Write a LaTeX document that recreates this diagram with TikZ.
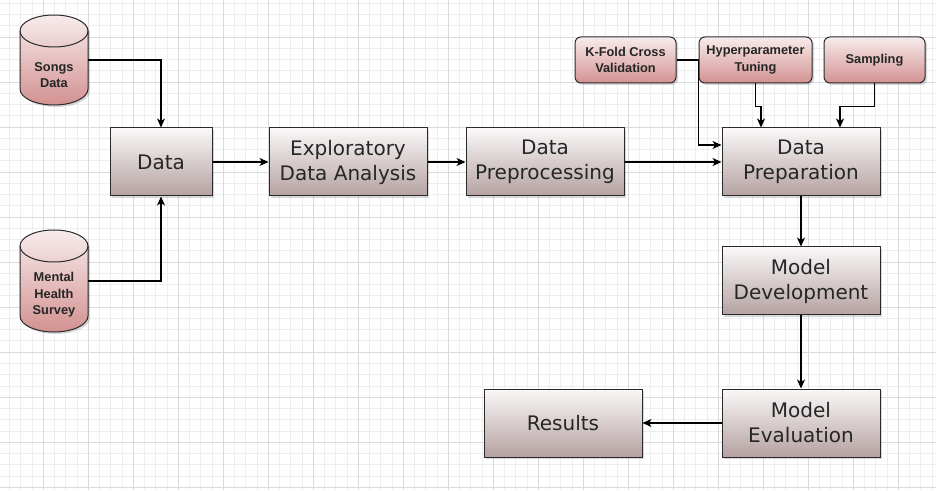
\documentclass[tikz,border=0pt]{standalone}
\usepackage{fontspec}
\setmainfont{DejaVu Sans}
\newfontfamily\smallfont{Liberation Sans}
\usetikzlibrary{shadows,calc,arrows.meta}
\definecolor{boxtop}{HTML}{FAF8F8}
\definecolor{boxbot}{HTML}{B5A1A1}
\definecolor{pinktop}{HTML}{F8ECEC}
\definecolor{pinkbot}{HTML}{D39191}
\definecolor{edge}{HTML}{2A2A2A}
\definecolor{txt}{HTML}{262626}
\definecolor{gridminor}{HTML}{EEEEEE}
\definecolor{gridmajor}{HTML}{DADADA}
\begin{document}
\begin{tikzpicture}[x=1pt,y=1pt,
  bigbox/.style={draw=edge, line width=1pt, top color=boxtop, bottom color=boxbot,
    minimum width=158pt, minimum height=68pt, align=center, text=txt,
    font=\fontsize{20}{25}\selectfont, inner sep=2pt,
    drop shadow={shadow xshift=2pt,shadow yshift=-2pt,opacity=0.3}},
  smallbox/.style={draw=edge, line width=1pt, top color=pinktop, bottom color=pinkbot,
    rounded corners=6pt, minimum height=46pt, align=center, text=txt,
    font=\smallfont\fontsize{12.8}{16.5}\selectfont\bfseries, inner sep=2pt,
    drop shadow={shadow xshift=2pt,shadow yshift=-2pt,opacity=0.3}},
  cyltext/.style={align=center, text=txt, font=\smallfont\fontsize{12.8}{16.5}\selectfont\bfseries, inner sep=0pt},
  cylshape/.style={draw=edge, line width=1pt, top color=pinktop, bottom color=pinkbot},
  hidden/.style={inner sep=0pt, outer sep=0pt},
  conn/.style={draw=black, line width=1.1pt, -{Stealth[length=9pt,width=8pt,inset=2.5pt]}}
]
\useasboundingbox (0,0) rectangle (936,490);
\fill[white] (0,0) rectangle (936,490);
% grid
\foreach \i in {0,...,84} {
  \pgfmathsetmacro{\xx}{-2+11.25*\i}
  \draw[gridminor, line width=0.5pt] (\xx,0) -- (\xx,490);
}
\foreach \j in {0,...,43} {
  \pgfmathsetmacro{\yy}{3+11.25*\j}
  \draw[gridminor, line width=0.5pt] (0,\yy) -- (936,\yy);
}
\foreach \i in {0,...,21} {
  \pgfmathsetmacro{\xx}{-2+45*\i}
  \draw[gridmajor, line width=0.6pt] (\xx,0) -- (\xx,490);
}
\foreach \j in {0,...,10} {
  \pgfmathsetmacro{\yy}{3+45*\j}
  \draw[gridmajor, line width=0.6pt] (0,\yy) -- (936,\yy);
}

% cylinders
\path[cylshape, drop shadow={shadow xshift=2pt,shadow yshift=-2pt,opacity=0.3}]
  (20,459) -- (20,401) arc[start angle=180, end angle=360, x radius=34, y radius=16]
  -- (88,459) arc[start angle=0, end angle=180, x radius=34, y radius=16] -- cycle;
\draw[edge, line width=1pt] (20,459) arc[start angle=180, end angle=360, x radius=34, y radius=16];
\path[cylshape, drop shadow={shadow xshift=2pt,shadow yshift=-2pt,opacity=0.3}]
  (20,244) -- (20,174) arc[start angle=180, end angle=360, x radius=34, y radius=16]
  -- (88,244) arc[start angle=0, end angle=180, x radius=34, y radius=16] -- cycle;
\draw[edge, line width=1pt] (20,244) arc[start angle=180, end angle=360, x radius=34, y radius=16];
\node[hidden, minimum width=68pt, minimum height=90pt] (songs) at (54,430) {};
\node[cyltext] (songsT) at (54,415) {Songs\\Data};
\node[hidden, minimum width=68pt, minimum height=102pt] (mental) at (54,209) {};
\node[cyltext] (mentalT) at (54,195) {Mental\\Health\\Survey};

% main boxes
\node[bigbox, minimum width=102pt] (data) at (161,328) {Data};
\node[bigbox] (eda) at (348,328) {Exploratory\\Data Analysis};
\node[bigbox] (dpp) at (545,328) {Data\\Preprocessing};
\node[bigbox] (dprep) at (801,328) {Data\\Preparation};
\node[bigbox] (mdev) at (801,209) {Model\\Development};
\node[bigbox] (meval) at (801,67) {Model\\Evaluation};
\node[bigbox] (results) at (563,67) {Results};

% small boxes
\node[smallbox, minimum width=101pt] (kfold) at (625.5,430) {K-Fold Cross\\Validation};
\node[smallbox, minimum width=113pt] (hyper) at (755.5,430) {Hyperparameter\\Tuning};
\node[smallbox, minimum width=101pt] (sampling) at (874.5,430) {Sampling};

% connectors
\draw[conn] (songs.east) -| (data.north);
\draw[conn] (mental.east) -| (data.south);
\draw[conn] (data) -- (eda);
\draw[conn] (eda) -- (dpp);
\draw[conn] (dpp) -- (dprep);
\draw[conn] (kfold.east) -- (kfold.east -| hyper.west) |- ($(dprep.west)+(0,17)$);
\draw[conn] (hyper.south) -- ++(0,-23) -| ($(dprep.north)+(-40,0)$);
\draw[conn] (sampling.south) -- ++(0,-23) -| ($(dprep.north)+(39,0)$);
\draw[conn] (dprep) -- (mdev);
\draw[conn] (mdev) -- (meval);
\draw[conn] (meval) -- (results);
\end{tikzpicture}
\end{document}
